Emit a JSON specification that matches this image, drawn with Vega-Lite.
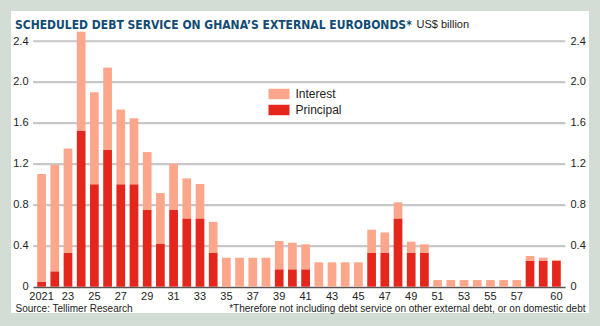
{
  "$schema": "https://vega.github.io/schema/vega-lite/v6.json",
  "width": 578,
  "height": 302,
  "autosize": {"type": "none"},
  "padding": {"left": 11, "top": 11, "right": 11, "bottom": 13},
  "background": "#d3ddd6",
  "config": {
    "view": {"fill": "white", "strokeWidth": 0},
    "font": "Liberation Sans"
  },
  "title": {
    "text": "SCHEDULED DEBT SERVICE ON GHANA’S EXTERNAL EUROBONDS*",
    "anchor": "start",
    "frame": "group",
    "orient": "top",
    "offset": 0,
    "dx": 4,
    "dy": 30,
    "baseline": "alphabetic",
    "font": "DejaVu Sans Condensed, Liberation Sans",
    "fontSize": 12,
    "fontWeight": "bold",
    "color": "#124b73"
  },
  "datasets": {
    "gridvals": [
      {"g": 0.4}, {"g": 0.8}, {"g": 1.2}, {"g": 1.6}, {"g": 2.0}, {"g": 2.4}
    ],
    "debt": [
      {"year": 2021, "type": "Principal", "value": 0.05}, {"year": 2021, "type": "Interest", "value": 1.05},
      {"year": 2022, "type": "Principal", "value": 0.15}, {"year": 2022, "type": "Interest", "value": 1.04},
      {"year": 2023, "type": "Principal", "value": 0.33}, {"year": 2023, "type": "Interest", "value": 1.02},
      {"year": 2024, "type": "Principal", "value": 1.52}, {"year": 2024, "type": "Interest", "value": 0.97},
      {"year": 2025, "type": "Principal", "value": 1.0}, {"year": 2025, "type": "Interest", "value": 0.9},
      {"year": 2026, "type": "Principal", "value": 1.335}, {"year": 2026, "type": "Interest", "value": 0.805},
      {"year": 2027, "type": "Principal", "value": 1.0}, {"year": 2027, "type": "Interest", "value": 0.73},
      {"year": 2028, "type": "Principal", "value": 1.0}, {"year": 2028, "type": "Interest", "value": 0.645},
      {"year": 2029, "type": "Principal", "value": 0.75}, {"year": 2029, "type": "Interest", "value": 0.565},
      {"year": 2030, "type": "Principal", "value": 0.417}, {"year": 2030, "type": "Interest", "value": 0.498},
      {"year": 2031, "type": "Principal", "value": 0.75}, {"year": 2031, "type": "Interest", "value": 0.45},
      {"year": 2032, "type": "Principal", "value": 0.667}, {"year": 2032, "type": "Interest", "value": 0.391},
      {"year": 2033, "type": "Principal", "value": 0.667}, {"year": 2033, "type": "Interest", "value": 0.336},
      {"year": 2034, "type": "Principal", "value": 0.333}, {"year": 2034, "type": "Interest", "value": 0.3},
      {"year": 2035, "type": "Interest", "value": 0.283},
      {"year": 2036, "type": "Interest", "value": 0.283},
      {"year": 2037, "type": "Interest", "value": 0.283},
      {"year": 2038, "type": "Interest", "value": 0.283},
      {"year": 2039, "type": "Principal", "value": 0.17}, {"year": 2039, "type": "Interest", "value": 0.276},
      {"year": 2040, "type": "Principal", "value": 0.17}, {"year": 2040, "type": "Interest", "value": 0.26},
      {"year": 2041, "type": "Principal", "value": 0.17}, {"year": 2041, "type": "Interest", "value": 0.244},
      {"year": 2042, "type": "Interest", "value": 0.238},
      {"year": 2043, "type": "Interest", "value": 0.238},
      {"year": 2044, "type": "Interest", "value": 0.238},
      {"year": 2045, "type": "Interest", "value": 0.238},
      {"year": 2046, "type": "Principal", "value": 0.333}, {"year": 2046, "type": "Interest", "value": 0.224},
      {"year": 2047, "type": "Principal", "value": 0.333}, {"year": 2047, "type": "Interest", "value": 0.197},
      {"year": 2048, "type": "Principal", "value": 0.667}, {"year": 2048, "type": "Interest", "value": 0.157},
      {"year": 2049, "type": "Principal", "value": 0.333}, {"year": 2049, "type": "Interest", "value": 0.107},
      {"year": 2050, "type": "Principal", "value": 0.333}, {"year": 2050, "type": "Interest", "value": 0.081},
      {"year": 2051, "type": "Interest", "value": 0.065},
      {"year": 2052, "type": "Interest", "value": 0.065},
      {"year": 2053, "type": "Interest", "value": 0.065},
      {"year": 2054, "type": "Interest", "value": 0.065},
      {"year": 2055, "type": "Interest", "value": 0.065},
      {"year": 2056, "type": "Interest", "value": 0.065},
      {"year": 2057, "type": "Interest", "value": 0.065},
      {"year": 2058, "type": "Principal", "value": 0.254}, {"year": 2058, "type": "Interest", "value": 0.046},
      {"year": 2059, "type": "Principal", "value": 0.254}, {"year": 2059, "type": "Interest", "value": 0.029},
      {"year": 2060, "type": "Principal", "value": 0.254}, {"year": 2060, "type": "Interest", "value": 0.008}
    ]
  },
  "layer": [
    {
      "data": {"name": "gridvals"},
      "mark": {"type": "tick", "orient": "horizontal", "size": 532, "thickness": 1.7, "color": "#c8c8c8", "opacity": 1},
      "encoding": {
        "x": {
          "datum": 0.5,
          "type": "quantitative",
          "scale": {"domain": [0, 1], "range": [22, 554], "nice": false, "zero": false},
          "axis": null
        },
        "y": {
          "field": "g",
          "type": "quantitative",
          "scale": {"domain": [0, 2.4], "range": [275.7, 30], "nice": false, "zero": true},
          "axis": {
            "orient": "right",
            "offset": -19,
            "values": [0, 0.4, 0.8, 1.2, 1.6, 2.0, 2.4],
            "labelExpr": "datum.value == 0 ? '0' : format(datum.value, '.1f')",
            "labelFontSize": 11,
            "labelColor": "#222222",
            "labelPadding": 0,
            "ticks": false,
            "tickSize": 0,
            "domain": false,
            "grid": false,
            "title": "*Therefore not including debt service on other external debt, or on domestic debt",
            "titleAngle": 0,
            "titleX": 15,
            "titleY": 300,
            "titleAlign": "right",
            "titleBaseline": "alphabetic",
            "titleFontSize": 10,
            "titleFontWeight": "normal",
            "titleColor": "#222222"
          }
        }
      }
    },
    {
      "data": {"name": "debt"},
      "mark": {"type": "bar"},
      "encoding": {
        "x": {
          "field": "year",
          "type": "ordinal",
          "scale": {
            "type": "band",
            "domain": [2021, 2022, 2023, 2024, 2025, 2026, 2027, 2028, 2029, 2030, 2031, 2032, 2033, 2034, 2035, 2036, 2037, 2038, 2039, 2040, 2041, 2042, 2043, 2044, 2045, 2046, 2047, 2048, 2049, 2050, 2051, 2052, 2053, 2054, 2055, 2056, 2057, 2058, 2059, 2060],
            "range": [22, 554],
            "paddingInner": 0.34,
            "paddingOuter": 0.32
          },
          "axis": {
            "orient": "bottom",
            "offset": -26.3,
            "labelAngle": 0,
            "labelExpr": "datum.value == 2021 ? '2021' : datum.value == 2060 ? '60' : (datum.value % 2 == 1 && datum.value < 2059) ? substring(toString(datum.value), 2, 4) : ''",
            "labelFontSize": 11,
            "labelColor": "#222222",
            "labelPadding": 4,
            "labelOverlap": false,
            "ticks": false,
            "domain": false,
            "grid": false,
            "title": "Source: Tellimer Research",
            "titleX": 4,
            "titleY": 24.3,
            "titleAnchor": "start",
            "titleAlign": "left",
            "titleBaseline": "alphabetic",
            "titleFontSize": 10,
            "titleFontWeight": "normal",
            "titleColor": "#222222"
          }
        },
        "y": {
          "field": "value",
          "type": "quantitative",
          "stack": "zero",
          "scale": {"domain": [0, 2.4], "range": [275.7, 30], "nice": false, "zero": true},
          "axis": {
            "orient": "left",
            "offset": -17,
            "values": [0, 0.4, 0.8, 1.2, 1.6, 2.0, 2.4],
            "labelExpr": "datum.value == 0 ? '0' : format(datum.value, '.1f')",
            "labelFontSize": 11,
            "labelColor": "#222222",
            "labelPadding": 0,
            "ticks": false,
            "tickSize": 0,
            "domain": false,
            "grid": true,
            "gridColor": {"condition": {"test": "datum.value == 0", "value": "#555555"}, "value": "#c8c8c8"},
            "gridWidth": {"condition": {"test": "datum.value == 0", "value": 1.5}, "value": 1.7},
            "gridOpacity": 1,
            "title": "US$ billion",
            "titleAngle": 0,
            "titleX": 388,
            "titleY": 16,
            "titleAlign": "left",
            "titleBaseline": "alphabetic",
            "titleFontSize": 11,
            "titleFontWeight": "normal",
            "titleColor": "#222222"
          }
        },
        "color": {
          "field": "type",
          "type": "nominal",
          "scale": {"domain": ["Interest", "Principal"], "range": ["#fca78b", "#e4261c"]},
          "legend": {
            "orient": "none",
            "legendX": 262,
            "legendY": 77,
            "title": null,
            "symbolType": "M-2,-1H2V1H-2Z",
            "symbolSize": 110,
            "symbolStrokeWidth": 0,
            "symbolOpacity": 1,
            "labelFontSize": 12,
            "labelColor": "#222222",
            "labelOffset": 10.5,
            "rowPadding": 4,
            "padding": 0
          }
        },
        "order": {"field": "type", "sort": "descending"}
      }
    }
  ],
  "resolve": {"scale": {"x": "independent"}, "axis": {"x": "independent", "y": "independent"}}
}
